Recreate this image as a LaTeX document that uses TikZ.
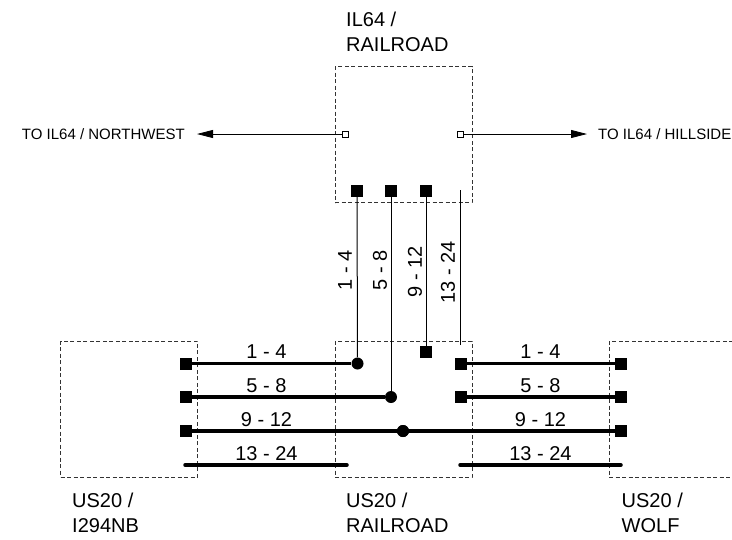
\documentclass[tikz,border=0pt]{standalone}
\usepackage{fontspec}
\setmainfont{Liberation Sans}
\usetikzlibrary{arrows.meta}
\begin{document}
\begin{tikzpicture}[x=1pt,y=-1pt,
  box/.style={draw=black!80, dash pattern=on 4pt off 2.5pt, line width=0.9pt, minimum width=137pt, minimum height=136pt, inner sep=0pt},
  sq/.style={fill=black, minimum size=12pt, inner sep=0pt, outer sep=0pt},
  osq/.style={draw, fill=white, minimum size=6pt, inner sep=0pt, line width=0.6pt},
  dot/.style={circle, fill=black, minimum size=12pt, inner sep=0pt},
  fiber/.style={line width=3.5pt},
  fiberend/.style={line width=3.5pt, line cap=round},
  thinwire/.style={line width=1pt},
  title/.style={font=\fontsize{20}{25}\selectfont, align=left, anchor=north west, inner sep=0pt},
  lab/.style={font=\fontsize{20}{22}\selectfont, inner sep=0pt},
  dest/.style={font=\fontsize{15}{16}\selectfont, inner sep=0pt},
  arr/.style={line width=0.8pt, -{Triangle[length=16pt,width=8pt]}},
]
\useasboundingbox (0,0) rectangle (732,539);

% boxes
\node[box] (topbox) at (403.5,134.5) {};
\node[box] (midbox) at (403.5,409) {};
\node[box] (leftbox) at (129,409) {};
\node[box] (rightbox) at (677.5,409) {};

% titles
\node[title] (ttop) at (346,11.5) {IL64 /\\RAILROAD};
\node[title] (tleft) at (72,492.5) {US20 /\\I294NB};
\node[title] (tmid) at (346,492.5) {US20 /\\RAILROAD};
\node[title] (tright) at (621.5,492.5) {US20 /\\WOLF};

% destination arrows
\node[osq] (ol) at (345,134) {};
\node[osq] (or) at (460,134) {};
\coordinate (tipL) at (197,134);
\coordinate (tipR) at (587,134);
\draw[arr] (ol) -- (tipL);
\draw[arr] (or) -- (tipR);
\node[dest, anchor=east] (dnw) at (185,134) {TO IL64 / NORTHWEST};
\node[dest, anchor=west] (dhs) at (598,134) {TO IL64 / HILLSIDE};

% top squares
\node[sq] (t1) at (357,191) {};
\node[sq] (t2) at (391,191) {};
\node[sq] (t3) at (426,191) {};
\coordinate (t4a) at (460,190);
\coordinate (t4b) at (460,345);

% bottom-middle connection points
\node[dot] (c1) at (357.5,363.5) {};
\node[dot] (c2) at (391,397) {};
\node[dot] (c3) at (403,431) {};
\node[sq] (m9) at (426,352) {};
\node[sq] (m1) at (460.5,363.5) {};
\node[sq] (m2) at (460.5,397) {};

% left squares
\node[sq] (l1) at (185.5,363.5) {};
\node[sq] (l2) at (185.5,397) {};
\node[sq] (l3) at (185.5,431) {};
% right squares
\node[sq] (r1) at (620.5,363.5) {};
\node[sq] (r2) at (620.5,397) {};
\node[sq] (r3) at (620.5,431) {};

\coordinate (a4) at (185,465);
\coordinate (b4) at (347,465);
\coordinate (c4) at (460,465);
\coordinate (d4) at (621,465);

% vertical wires
\draw[thinwire] (t1) -- (c1);
\draw[thinwire] (t2) -- (c2);
\draw[thinwire] (t3) -- (m9);
\draw[thinwire] (t4a) -- (t4b);

% horizontal fibers
\draw[fiber] (l1) -- (c1);
\draw[fiber] (l2) -- (c2);
\draw[fiber] (l3) -- (r3);
\draw[fiberend] (a4) -- (b4);
\draw[fiber] (m1) -- (r1);
\draw[fiber] (m2) -- (r2);
\draw[fiberend] (c4) -- (d4);
\node[dot] at (c3) {};

% vertical labels
\node[lab, rotate=90] (v1) at (345,270) {1 - 4};
\node[lab, rotate=90] (v2) at (380,270) {5 - 8};
\node[lab, rotate=90] (v3) at (415,272) {9 - 12};
\node[lab, rotate=90] (v4) at (448,272) {13 - 24};

% horizontal labels left
\node[lab, anchor=base] (h1) at (266.5,358) {1 - 4};
\node[lab, anchor=base] (h2) at (266.5,392) {5 - 8};
\node[lab, anchor=base] (h3) at (266.5,426) {9 - 12};
\node[lab, anchor=base] (h4) at (266.5,460) {13 - 24};
% horizontal labels right
\node[lab, anchor=base] (k1) at (540.5,358) {1 - 4};
\node[lab, anchor=base] (k2) at (540.5,392) {5 - 8};
\node[lab, anchor=base] (k3) at (540.5,426) {9 - 12};
\node[lab, anchor=base] (k4) at (540.5,460) {13 - 24};
\end{tikzpicture}
\end{document}
